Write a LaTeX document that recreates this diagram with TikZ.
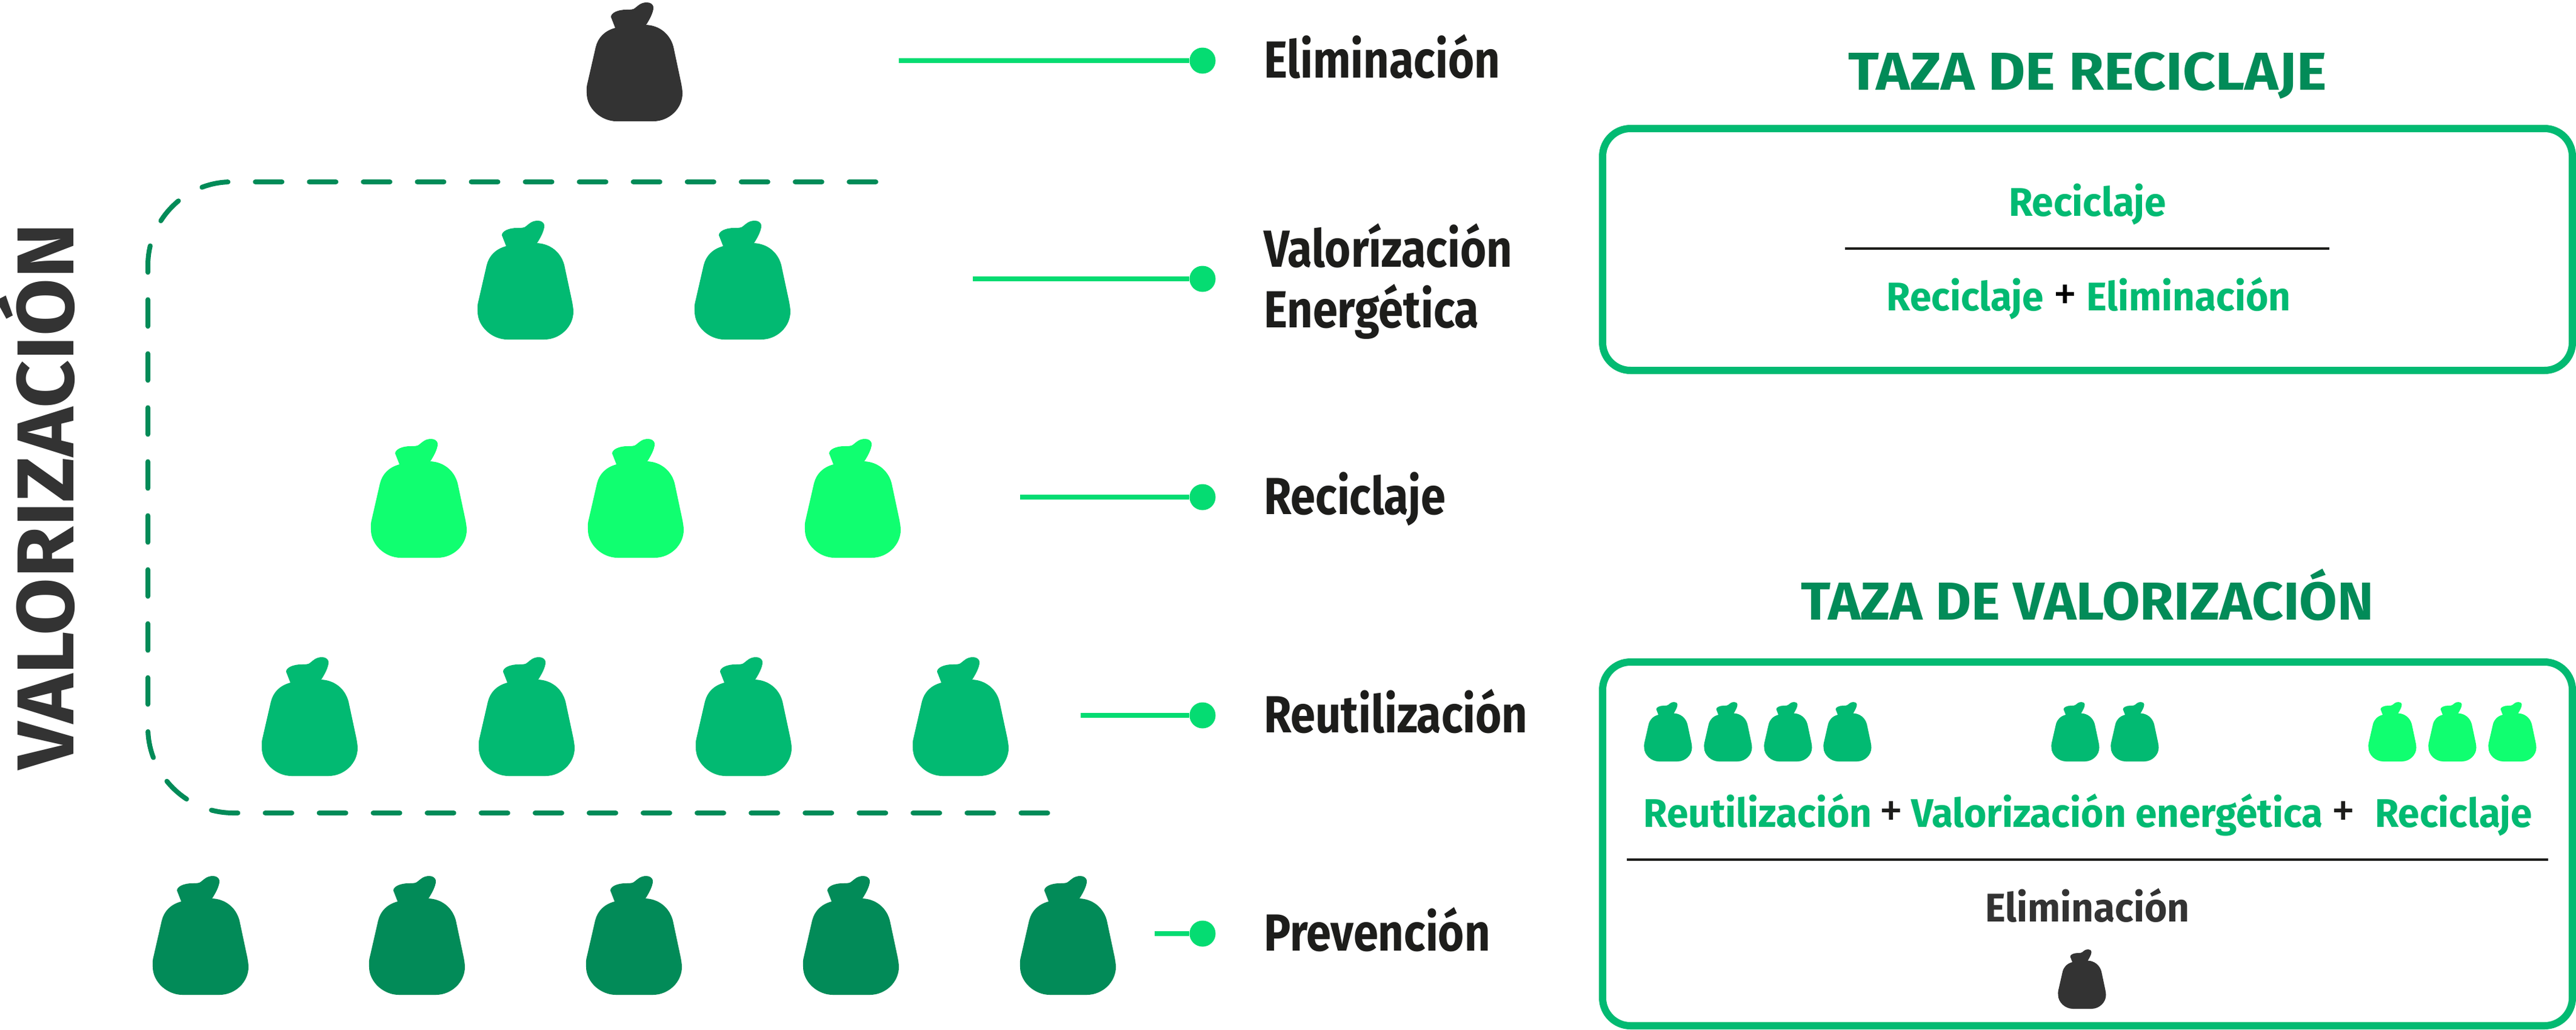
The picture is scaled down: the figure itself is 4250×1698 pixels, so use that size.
\documentclass[tikz,border=0pt]{standalone}
\usepackage{fontspec}
\setmainfont[FakeStretch=0.86]{Fira Sans}
\newfontfamily\boxfont[FakeStretch=0.97]{Fira Sans}
\newfontfamily\titlefont[FakeStretch=1.07]{Fira Sans}
\newfontfamily\titlefontb[FakeStretch=1.03]{Fira Sans}
\newfontfamily\sidefont[FakeStretch=1.033]{Fira Sans}
\usepackage{tikz}

\definecolor{bagdark}{HTML}{028B58}
\definecolor{bagmid}{HTML}{02BA72}
\definecolor{baglight}{HTML}{10FF70}
\definecolor{bagblack}{HTML}{333333}
\definecolor{linegreen}{HTML}{05DC72}
\definecolor{rulecol}{HTML}{1D1D1B}

\tikzset{
	bag/.pic={
		\fill[pic actions] (-32,42) .. controls (-50,47) and (-60,58) .. (-64,73)
			-- (-78,134) .. controls (-80,142) and (-79,147) .. (-79,150)
			.. controls (-79,175) and (-55,196) .. (-30,196)
			-- (31,196) .. controls (57,196) and (79,175) .. (79,150)
			.. controls (79,145) and (78,140) .. (77,134)
			-- (64,73) .. controls (58,51) and (40,38) .. (19,37)
			.. controls (25,28) and (31,16) .. (31,9)
			.. controls (31,2) and (25,0) .. (20,0)
			.. controls (10,0) and (5,6) .. (1,9)
			.. controls (-2,12) and (-7,12) .. (-14,12)
			.. controls (-27,12) and (-39,17) .. (-39,24) -- cycle;
	},
	leader/.style={draw=linegreen, line width=8pt},
	leaderdot/.style={circle, fill=linegreen, inner sep=0pt, minimum size=43pt},
	lbl/.style={anchor=base west, text=rulecol, font=\fontsize{86}{100}\bfseries\selectfont, inner sep=0pt, align=left},
	boxtxt/.style={anchor=base, text=bagmid, font=\boxfont\fontsize{66}{66}\bfseries\selectfont, inner sep=0pt},
	boxplus/.style={anchor=base, text=rulecol, font=\boxfont\fontsize{82}{82}\selectfont, inner sep=0pt},
	boxtitle/.style={anchor=base, text=bagdark, font=\titlefont\fontsize{88}{88}\bfseries\selectfont, inner sep=0pt},
	ratebox/.style={draw=bagmid, line width=12pt, rounded corners=46pt},
	fracrule/.style={draw=rulecol, line width=4pt},
}

\begin{document}
\begin{tikzpicture}[x=1pt, y=-1pt]
	\useasboundingbox (0,0) rectangle (4250,1698);

	% bags
	\pic[fill=bagblack] at (1047,4) {bag};
	\pic[fill=bagmid] at (867,364) {bag};
	\pic[fill=bagmid] at (1225,364) {bag};
	\pic[fill=baglight] at (691,724) {bag};
	\pic[fill=baglight] at (1049,724) {bag};
	\pic[fill=baglight] at (1407,724) {bag};
	\pic[fill=bagmid] at (511,1084) {bag};
	\pic[fill=bagmid] at (869,1084) {bag};
	\pic[fill=bagmid] at (1227,1084) {bag};
	\pic[fill=bagmid] at (1585,1084) {bag};
	\pic[fill=bagdark] at (331,1445) {bag};
	\pic[fill=bagdark] at (688,1445) {bag};
	\pic[fill=bagdark] at (1046,1445) {bag};
	\pic[fill=bagdark] at (1404,1445) {bag};
	\pic[fill=bagdark] at (1762,1445) {bag};

	% levels
	\coordinate (eliStart) at (1483,100);
	\coordinate (valStart) at (1605,460);
	\coordinate (recStart) at (1683,820);
	\coordinate (reuStart) at (1783,1180);
	\coordinate (preStart) at (1905,1540);
	\node[leaderdot] (eliDot) at (1984,100) {};
	\node[leaderdot] (valDot) at (1984,460) {};
	\node[leaderdot] (recDot) at (1984,820) {};
	\node[leaderdot] (reuDot) at (1984,1180) {};
	\node[leaderdot] (preDot) at (1984,1540) {};
	\draw[leader] (eliStart) -- (eliDot);
	\draw[leader] (valStart) -- (valDot);
	\draw[leader] (recStart) -- (recDot);
	\draw[leader] (reuStart) -- (reuDot);
	\draw[leader] (preStart) -- (preDot);
	\node[lbl] (eliLabel) at (2085,128) {Eliminación};
	\node[lbl] (valLabel) at (2085,540) {Valorízación\\Energética};
	\node[lbl] (recLabel) at (2085,848) {Reciclaje};
	\node[lbl] (reuLabel) at (2085,1208) {Reutilización};
	\node[lbl] (preLabel) at (2085,1568) {Prevención};

	% valorizacion
	\draw[draw=bagdark, line width=8pt, line cap=round, dash pattern=on 44pt off 45.07pt]
		(1445,300) -- (382,300) arc[start angle=-90, end angle=-180, radius=138] -- (244,1200)
		arc[start angle=180, end angle=90, radius=141] -- (1729,1341);
	\node[anchor=base, rotate=90, text=bagblack, font=\sidefont\fontsize{133}{133}\bfseries\selectfont, inner sep=0pt] (valTitle) at (121,819) {VALORIZACIÓN};

	% taza de reciclaje
	\node[boxtitle] (recTitle) at (3444,148) {TAZA DE RECICLAJE};
	\draw[ratebox] (2644,212) rectangle (4244,611);
	\node[boxtxt] (recNum) at (3444,356) {Reciclaje};
	\coordinate (recRuleA) at (3044,410);
	\coordinate (recRuleB) at (3843,410);
	\draw[fracrule] (recRuleA) -- (recRuleB);
	\node[boxtxt] (recDen) at (3446,512) {Reciclaje {\color{black}\mdseries\fontsize{82}{82}\selectfont+} Eliminación};

	% taza de valorizacion
	\node[boxtitle, font=\titlefontb\fontsize{88}{88}\bfseries\selectfont] (valBoxTitle) at (3444,1022) {TAZA DE VALORIZACIÓN};
	\draw[ratebox] (2644,1092) rectangle (4244,1692);
	\pic[fill=bagmid, scale=.5] at (2752,1158) {bag};
	\pic[fill=bagmid, scale=.5] at (2851,1158) {bag};
	\pic[fill=bagmid, scale=.5] at (2950,1158) {bag};
	\pic[fill=bagmid, scale=.5] at (3048,1158) {bag};
	\pic[fill=bagmid, scale=.5] at (3424,1158) {bag};
	\pic[fill=bagmid, scale=.5] at (3522,1158) {bag};
	\pic[fill=baglight, scale=.5] at (3947,1158) {bag};
	\pic[fill=baglight, scale=.5] at (4046,1158) {bag};
	\pic[fill=baglight, scale=.5] at (4145,1158) {bag};
	\node[boxtxt] (valNumA) at (2900,1364) {Reutilización};
	\node[boxplus] (valPlusA) at (3120,1364) {+};
	\node[boxtxt] (valNumB) at (3493,1364) {Valorización energética};
	\node[boxplus] (valPlusB) at (3866,1364) {+};
	\node[boxtxt] (valNumC) at (4048,1364) {Reciclaje};
	\coordinate (valRuleA) at (2684,1418);
	\coordinate (valRuleB) at (4204,1418);
	\draw[fracrule] (valRuleA) -- (valRuleB);
	\node[boxtxt, text=bagblack] (valDen) at (3444,1520) {Eliminación};
	\pic[fill=bagblack, scale=.5] at (3435,1566) {bag};
\end{tikzpicture}
\end{document}
